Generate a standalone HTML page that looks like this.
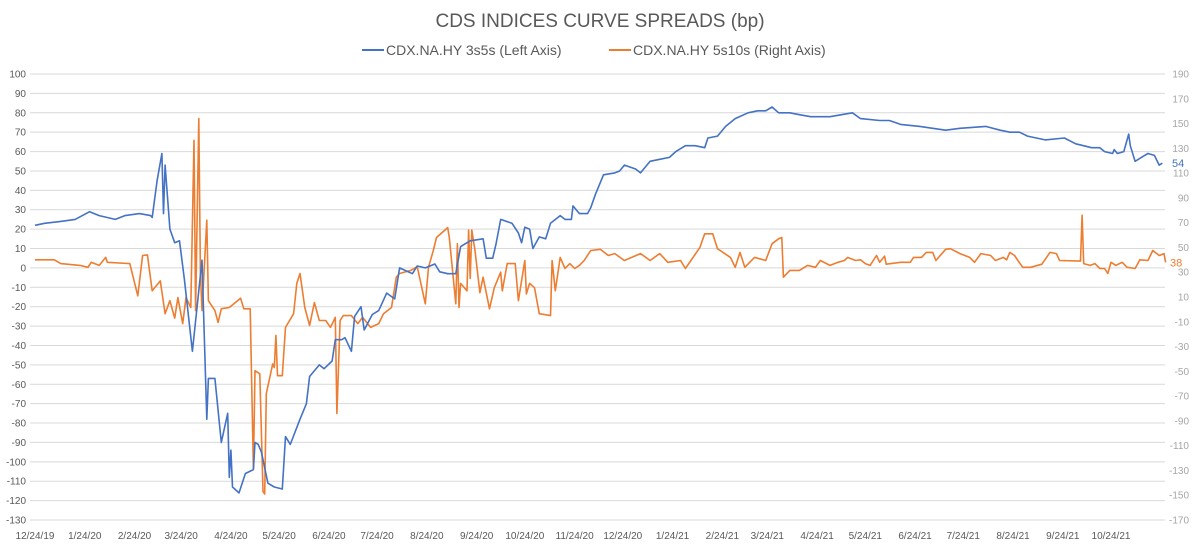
<!DOCTYPE html>
<html><head><meta charset="utf-8">
<style>
html,body{margin:0;padding:0;background:#fff;}
svg{display:block;font-family:"Liberation Sans",sans-serif;}
</style></head>
<body>
<svg id="chart" width="1200" height="546" viewBox="0 0 1200 546">
<text x="600" y="27" text-anchor="middle" font-size="19" fill="#595959">CDS INDICES CURVE SPREADS (bp)</text>
<g>
<g>
<line x1="362" y1="50" x2="384" y2="50" stroke="#4472C4" stroke-width="2"/>
<text x="386" y="55" font-size="14" fill="#595959">CDX.NA.HY 3s5s (Left Axis)</text></g>
<g>
<line x1="609" y1="50" x2="631" y2="50" stroke="#ED7D31" stroke-width="2"/>
<text x="633" y="55" font-size="14" fill="#595959">CDX.NA.HY 5s10s (Right Axis)</text></g>
</g>
<g id="grid"></g>
<g id="laxis"></g>
<g id="raxis"></g>
<g id="xaxis"></g>
<g id="series"></g>
</svg>
<script>
const tickDates = ["2019-12-24","2020-01-24","2020-02-24","2020-03-24","2020-04-24","2020-05-24","2020-06-24","2020-07-24","2020-08-24","2020-09-24","2020-10-24","2020-11-24","2020-12-24","2021-01-24","2021-02-24","2021-03-24","2021-04-24","2021-05-24","2021-06-24","2021-07-24","2021-08-24","2021-09-24","2021-10-24"];
const tickLabels = ["12/24/19","1/24/20","2/24/20","3/24/20","4/24/20","5/24/20","6/24/20","7/24/20","8/24/20","9/24/20","10/24/20","11/24/20","12/24/20","1/24/21","2/24/21","3/24/21","4/24/21","5/24/21","6/24/21","7/24/21","8/24/21","9/24/21","10/24/21"];
const leftTicks = [100,90,80,70,60,50,40,30,20,10,0,-10,-20,-30,-40,-50,-60,-70,-80,-90,-100,-110,-120,-130];
const rightTicks = [190,170,150,130,110,90,70,50,30,10,-10,-30,-50,-70,-90,-110,-130,-150,-170];
// days since 12/24/19
const blueDays = [0,6,16,25,34,40,50,56,65,72,73,76,79,80,81,84,87,90,93,98,104,107,108,112,116,120,121,122,123,127,131,136,137,139,141,145,149,154,156,159,165,169,171,177,180,185,187,191,193,197,199,203,205,210,214,219,224,227,235,238,243,249,252,257,262,265,271,279,281,285,287,290,297,301,303,305,308,310,314,318,321,327,330,334,335,339,344,346,349,354,361,364,367,374,377,383,389,395,399,405,411,417,419,425,430,436,444,450,455,459,463,470,476,483,495,509,514,526,532,539,551,567,576,592,601,607,613,618,629,641,648,658,663,666,671,672,674,678,681,682,685,691,693,697,700,702];
const blueVals = [22,23,24,25,29,27,25,27,28,27,26,45,59,28,53,20,13,14,-6,-43,4,-78,-57,-57,-90,-75,-108,-94,-113,-116,-106,-104,-90,-91,-95,-111,-113,-114,-87,-91,-78,-70,-56,-50,-52,-48,-37,-37,-36,-43,-25,-20,-32,-24,-22,-13,-16,0,-3,1,0,2,-2,-3,-3,11,14,15,5,5,12,25,23,18,13,21,20,10,16,15,23,27,25,25,32,28,28,31,38,48,49,50,53,51,49,55,56,57,60,63,63,62,67,68,73,77,80,81,81,83,80,80,79,78,78,80,77,76,76,74,73,71,72,73,71,70,70,68,66,67,64,62,62,60,59,61,59,60,69,63,55,58,59,58,53,54];
const orangeDays = [0,12,16,28,33,35,40,44,45,59,64,67,70,73,78,81,84,87,89,92,94,97,99,100,102,103,104,107,108,112,114,116,121,128,130,134,136,137,140,142,143,144,148,149,150,151,154,156,161,163,165,168,171,174,177,181,184,187,188,190,192,197,201,204,209,214,217,222,225,227,234,238,243,245,248,250,257,258,262,263,264,265,269,270,271,272,274,277,279,283,286,290,291,294,299,301,305,306,308,311,314,321,322,324,327,330,333,336,339,342,346,352,357,361,367,377,383,389,394,402,405,414,417,422,425,433,436,439,442,448,455,459,463,465,466,470,476,481,486,489,495,500,504,506,511,514,517,520,524,526,529,530,539,545,547,552,555,559,561,567,570,576,582,585,589,595,598,603,605,607,610,612,615,620,627,632,636,638,651,652,653,657,660,663,666,668,670,673,677,680,685,688,693,696,700,703,704];
const orangeVals = [40,40,37,35.5,34,38,35.5,42,38,37,11,43.5,44,15,23,-3.5,7,-7,9.5,-11.5,9.5,1.5,136.5,-1,154,29,-1,72,7,-1,-10.5,0.5,1.5,9,0.5,0.5,-129,-49.5,-52,-147,-149,-68,-44,-47,-21,-53.5,-53.5,-14.5,-3.5,21,29,1.5,-13,5.5,-9,-9,-14.5,-6.5,-84,-9,-5,-5,-11.5,-6.5,-14.5,-11.5,-3.5,1.5,26,29,31.5,34.5,4.5,34,47.5,58,66,58,4.5,53,1.5,21,15,64,25,64,47.5,13.5,26,0.5,17.5,30,15,37,37,7,39.5,12.5,21,17.5,-3.5,-5,39.5,15,42,33,37,33,35.5,39.5,47.5,48.5,43.5,45,39.5,45,39.5,45,38,39.5,33,50,61,61,49,42,34,46,34,42,39.5,53,57,58,26,31.5,31.5,35.5,34,39.5,35.5,38,39.5,42,39.5,40,37,35.5,43.5,38,43,36.5,38,38,42,42,46,46,39.5,48.5,49,45,42,38,45,43.5,39.5,42,40,46,43.5,39.5,34,34,36.5,46,45,39.5,39,76,37,35.5,37,33,33,29,38,35.5,38,34,33,40,39.5,47.5,43.5,45,38];

const NS="http://www.w3.org/2000/svg";
const X0=35, PXD=1076/670, XEND=1165;
const xS=d=>X0+d*PXD;
const yL=v=>74+(100-v)*(446/230);
const yR=v=>74+(190-v)*(446/360);
const base=new Date("2019-12-24T00:00:00Z");
const dayOf=s=>Math.round((new Date(s+"T00:00:00Z")-base)/86400000);
function mk(tag,attrs,parent){const e=document.createElementNS(NS,tag);for(const k in attrs)e.setAttribute(k,attrs[k]);parent.appendChild(e);return e;}
const grid=document.getElementById('grid'),la=document.getElementById('laxis'),ra=document.getElementById('raxis'),xa=document.getElementById('xaxis'),se=document.getElementById('series');
leftTicks.forEach(v=>{
  const l=mk('line',{x1:30,x2:XEND,y1:yL(v),y2:yL(v),stroke:'#d9d9d9','stroke-width':1},grid);
  
  
  const t=mk('text',{x:26,y:yL(v)+3.5,'text-anchor':'end','font-size':10,fill:'#595959'},la);
  t.textContent=v;
  
  
});
rightTicks.forEach(v=>{
  const t=mk('text',{x:1189,y:yR(v)+3.5,'text-anchor':'end','font-size':10,fill:'#a6a6a6'},ra);
  t.textContent=v;
  
  
});
tickDates.forEach((d,i)=>{
  const t=mk('text',{x:xS(dayOf(d)),y:539,'text-anchor':'middle','font-size':10,fill:'#595959'},xa);
  t.textContent=tickLabels[i];
  
  
});
function path(days,vals,ys,color,name){
  const d=days.map((dd,i)=>(i?'L':'M')+xS(dd).toFixed(1)+','+ys(vals[i]).toFixed(1)).join('');
  const p=mk('path',{d:d,fill:'none',stroke:color,'stroke-width':1.6,'stroke-linejoin':'round'},se);
  
  
}
path(orangeDays,orangeVals,yR,'#ED7D31','series-5s10s-line');
path(blueDays,blueVals,yL,'#4472C4','series-3s5s-line');
const bl=mk('text',{x:1172,y:yL(blueVals[blueVals.length-1])+4,'font-size':11,fill:'#4472C4'},se);
bl.textContent=Math.round(blueVals[blueVals.length-1]);


const ol=mk('text',{x:1170,y:yR(orangeVals[orangeVals.length-1])+4,'font-size':11,fill:'#ED7D31'},se);
ol.textContent=Math.round(orangeVals[orangeVals.length-1]);


</script>
</body></html>
